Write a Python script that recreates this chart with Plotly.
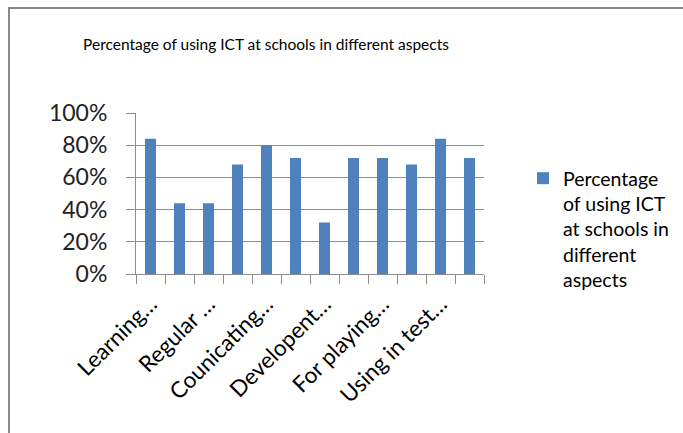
import plotly.graph_objects as go

# data
positions = list(range(12))
values = [0.84, 0.44, 0.44, 0.68, 0.80, 0.72, 0.32, 0.72, 0.72, 0.68, 0.84, 0.72]
tick_positions = [0, 2, 4, 6, 8, 10]
tick_labels = ['Learning…', 'Regular …', 'Counicating…', 'Developent…', 'For playing…', 'Using in test…']
series_name = 'Percentage<br>of using ICT<br>at schools in<br>different<br>aspects'
title_text = 'Percentage of using ICT at schools in different aspects'

W, H = 683, 433
L, R, T, B = 136, 484, 113, 274   # plot area in pixels


def px_x(x):
    return (x - L) / (R - L)


def px_y(y):
    return (B - y) / (B - T)


fig = go.Figure()

fig.add_trace(go.Bar(
    x=positions, y=values,
    name=series_name,
    marker=dict(color='#4F81BD', line=dict(width=0)),
    showlegend=True,
))

grey = '#8c8c8c'
font_family = 'Lato, Open Sans, sans-serif'

fig.update_layout(
    width=W, height=H,
    paper_bgcolor='white',
    plot_bgcolor='white',
    margin=dict(l=L, r=W - R, t=T, b=H - B, pad=0, autoexpand=False),
    bargap=0.62,
    font=dict(family=font_family, color='#000000'),
    title=dict(text=title_text, x=266 / W, xanchor='center',
               y=1 - 45 / H, yanchor='middle',
               font=dict(size=15.5, color='#000000', family=font_family)),
    xaxis=dict(
        range=[-0.5, 11.5], automargin=False,
        tickmode='array', tickvals=tick_positions, ticktext=tick_labels,
        tickangle=-45, ticks='', showgrid=False, zeroline=False,
        showline=True, linecolor=grey, linewidth=1,
        tickfont=dict(size=22.5, color='#000000'),
        minor=dict(ticks='outside', ticklen=9, tickcolor=grey, tick0=-0.5,
                   dtick=1, showgrid=False),
        ticklabelstandoff=7,
    ),
    yaxis=dict(
        range=[0, 1], dtick=0.2, tickformat='.0%', automargin=False,
        showgrid=True, gridcolor=grey, gridwidth=1,
        zeroline=False, showline=True, linecolor=grey, linewidth=1,
        ticks='outside', ticklen=9, tickcolor=grey,
        tickfont=dict(size=23, color='#222222'),
        ticklabelstandoff=14,
    ),
    legend=dict(
        x=px_x(523), y=px_y(159), xanchor='left', yanchor='top',
        valign='top', bgcolor='rgba(0,0,0,0)',
        font=dict(size=19.5, color='#000000'),
        itemwidth=30, tracegroupgap=0,
    ),
    shapes=[
        dict(type='line', xref='paper', yref='paper',
             x0=px_x(8), x1=px_x(W + 5), y0=px_y(8), y1=px_y(8),
             line=dict(color='#888888', width=2)),
        dict(type='line', xref='paper', yref='paper',
             x0=px_x(9), x1=px_x(9), y0=px_y(8), y1=px_y(H + 5),
             line=dict(color='#888888', width=2)),
    ],
)

fig.write_html('out.html', config={'displayModeBar': False},
               post_script="document.body.style.margin='0';")
